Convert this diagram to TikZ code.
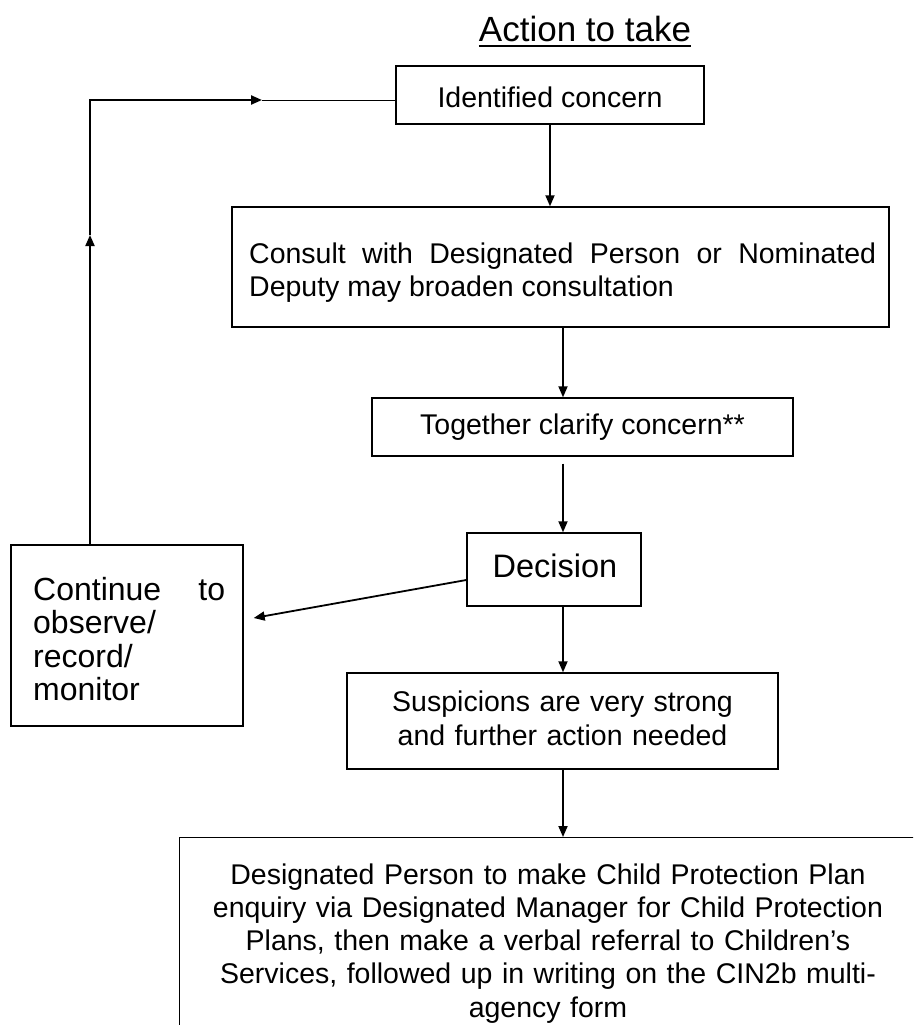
\documentclass[tikz,border=0pt]{standalone}
\usepackage{fontspec}
\setmainfont{Liberation Sans}
\usetikzlibrary{arrows.meta}
\begin{document}
\begin{tikzpicture}[x=1pt,y=-1pt,
  box/.style={draw, line width=1.4pt, inner sep=0pt},
  body/.style={inner sep=0pt, font=\fontsize{28.5}{33.3}\selectfont},
  large/.style={inner sep=0pt, font=\fontsize{32.5}{36.5}\selectfont},
  arr/.style={line width=1.8pt, -{Triangle[length=11pt,width=9pt]}},
  plain/.style={line width=1pt}]
\useasboundingbox (0,0) rectangle (913,1025);
\fill[white] (0,0) rectangle (913,1025);

% title
\node[inner sep=0pt, font=\fontsize{35}{40}\selectfont, anchor=base] (title) at (585,42) {Action to take};
\draw[line width=2.2pt] ([yshift=-4pt]title.base west) -- ([yshift=-4pt]title.base east);

% boxes
\node[box, minimum width=308, minimum height=58] (ident) at (550,95) {};
\node[body, anchor=base] (identtxt) at (550,107) {Identified concern};

\node[box, minimum width=657, minimum height=120] (consult) at (560.5,267) {};
\node[body, anchor=base west, text width=627pt, align=justify, font=\fontsize{28.5}{33}\selectfont] (consulttxt) at (249,263) {Consult with Designated Person or Nominated Deputy may broaden consultation};

\node[box, minimum width=421, minimum height=58] (together) at (582.5,427) {};
\node[body, anchor=base] (togethertxt) at (582.5,434) {Together clarify concern**};

\node[box, minimum width=174, minimum height=73] (dec) at (554,569.5) {};
\node[large, anchor=base] (dectxt) at (555,577) {Decision};

\node[box, minimum width=232, minimum height=181] (cont) at (127,635.5) {};
\node[large, anchor=base west, text width=192pt, align=left, font=\fontsize{32}{33.5}\selectfont] (conttxt) at (33,600) {Continue\hfill to\\observe/\\record/\\monitor};

\node[box, minimum width=431, minimum height=96] (susp) at (562.5,721) {};
\node[body, anchor=base, text width=420pt, align=center, font=\fontsize{28.5}{34}\selectfont] (susptxt) at (562.5,711) {Suspicions are very strong\\and further action needed};

\begin{scope}
\clip (0,0) rectangle (913,1025);
\node[box, minimum width=738, minimum height=230, anchor=north west] (final) at (179,837) {};
\end{scope}
\node[body, anchor=base, text width=720pt, align=center] (finaltxt) at (548,884) {Designated Person to make Child Protection Plan\\enquiry via Designated Manager for Child Protection\\Plans, then make a verbal referral to Children’s\\Services, followed up in writing on the CIN2b multi-\\agency form};

% connectors
\coordinate (axis) at (563,0);
\coordinate (loopx) at (90,100);
\coordinate (upTip) at (90,235);
\coordinate (midTip) at (262,100);
\coordinate (tg) at ([yshift=-7pt]together.south);

\draw[arr] (ident.south) -- (ident.south |- consult.north);
\draw[arr] (consult.south -| axis) -- (together.north -| axis);
\draw[arr] (tg -| axis) -- (dec.north -| axis);
\draw[arr] (dec.south -| axis) -- (susp.north -| axis);
\draw[arr] (susp.south -| axis) -- (final.north -| axis);
\draw[arr] ([yshift=-10.5pt]dec.west) -- ([xshift=10pt,yshift=17.5pt]cont.east);
\draw[arr, line width=2pt] (cont.north -| loopx) -- (upTip);
\draw[arr, line width=2.2pt] (upTip) -- (loopx) -- (midTip);
\draw[plain] (midTip) -- (ident.west |- loopx);
\end{tikzpicture}
\end{document}
